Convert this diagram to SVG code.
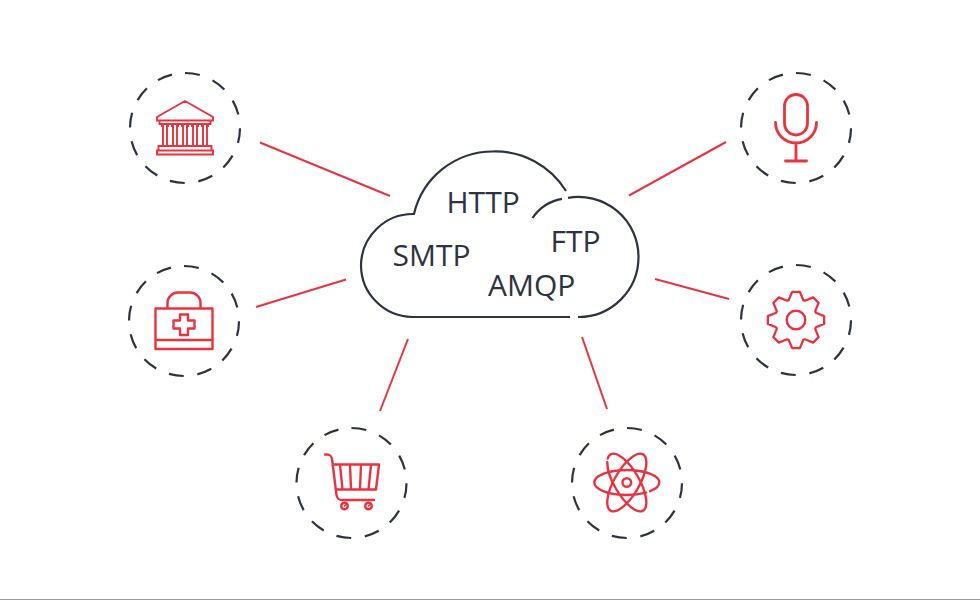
<svg xmlns="http://www.w3.org/2000/svg" width="980" height="600" viewBox="0 0 980 600">
<style>
.ring{fill:none;stroke:#2d3340;stroke-width:2.200;stroke-dasharray:15 13.800}
.ic{fill:none;stroke:#e9333f;stroke-width:2.400;stroke-linecap:round;stroke-linejoin:round}
.ln{fill:none;stroke:#e9333f;stroke-width:2}
.cl{fill:none;stroke:#2d3340;stroke-width:2.200}
.t{font-family:"Open Sans",sans-serif;font-size:30px;fill:#2d3340}
</style>
<rect width="980" height="600" fill="#fff"/>
<rect y="599" width="980" height="1" fill="#999"/>
<g id="connectors">
<path class="ln" d="M260 142.500L390 196"/>
<path class="ln" d="M256 307L346 279.500"/>
<path class="ln" d="M408 339L380 411"/>
<path class="ln" d="M582 337L607 409"/>
<path class="ln" d="M629 195.500L726 142"/>
<path class="ln" d="M655 279L729 299"/>
</g>
<g id="cloud">
<path class="cl" d="M566 191A83 83 0 0 0 493 151.500A81 81 0 0 0 414 214A52 52 0 0 0 361 265.500A52 52 0 0 0 412 317L570 317"/>
<path class="cl" d="M578 317A60 60 0 0 0 638.500 257A60 60 0 0 0 568 197.800"/>
<path class="cl" d="M562 198.800A45 45 0 0 0 532.500 218"/>
<text class="t" x="446.500" y="213">HTTP</text>
<text class="t" x="550.500" y="252">FTP</text>
<text class="t" x="392.500" y="266">SMTP</text>
<text class="t" x="488" y="296">AMQP</text>
</g>
<g id="bank">
<circle class="ring" cx="185" cy="128" r="55" transform="rotate(-90 185 128)"/>
<path class="ic" style="stroke-width:1.900;stroke-linejoin:miter" d="M185 101L213 117V120.500H157V117ZM159.500 120.500V124H210.500V120.500M162 124H168V126H167V146H163V126H162ZM172 124H178V126H177V146H173V126H172ZM182 124H188V126H187V146H183V126H182ZM192 124H198V126H197V146H193V126H192ZM202 124H208V126H207V146H203V126H202ZM158.500 146H211.500V150.500H158.500ZM157 150.500H213V154.500H157Z"/>
</g>
<g id="kit">
<circle class="ring" cx="184" cy="321" r="55" transform="rotate(-90 184 321)"/>
<path class="ic" d="M155.500 308.500H212.500V349H155.500ZM155.500 340H212.500M167.500 308.500V303A10.500 10.500 0 0 1 178 292.500H190A10.500 10.500 0 0 1 200.500 303V308.500M180 314.500H188V320.500H194.500V328.500H188V335H180V328.500H173.500V320.500H180Z"/>
</g>
<g id="cart">
<circle class="ring" cx="351.500" cy="483" r="55" transform="rotate(-90 351.500 483)"/>
<path class="ic" d="M325 454.500H327A5 5 0 0 1 332 459L336.500 495A5.500 5.500 0 0 0 342 500H374M333 464.500H379L376 489.500H336M340 464.500L342.500 489.500M350 464.500L351 489.500M361 464.500L360 489.500M371 464.500L368.500 489.500"/>
<circle class="ic" cx="344.500" cy="506" r="3.300"/>
<circle class="ic" cx="368.500" cy="506" r="3.300"/>
<path class="ic" style="stroke-width:1.500" d="M344.500 506L346 504.500M368.500 506L370 504.500"/>
</g>
<g id="atom">
<circle class="ring" cx="627" cy="483" r="55" transform="rotate(-90 627 483)"/>
<ellipse class="ic" cx="626.800" cy="482.500" rx="32.500" ry="12.500" pathLength="100" stroke-dasharray="9 3 88 0"/>
<ellipse class="ic" cx="626.800" cy="482.500" rx="32.500" ry="12.500" pathLength="100" stroke-dasharray="44 2.500 53.500 0" transform="rotate(60 626.800 482.500)"/>
<ellipse class="ic" cx="626.800" cy="482.500" rx="32.500" ry="12.500" transform="rotate(-60 626.800 482.500)"/>
<circle class="ic" cx="626.800" cy="482.500" r="4.300"/>
</g>
<g id="mic">
<circle class="ring" cx="796" cy="128" r="55" transform="rotate(-90 796 128)"/>
<path class="ic" style="stroke-width:2.800" d="M784.500 106A11.500 11.500 0 0 1 807.500 106V123.500A11.500 11.500 0 0 1 784.500 123.500ZM775.500 122.500A20.500 20.500 0 0 0 816.500 122.500M796 144V161M785.500 161H806.500"/>
</g>
<g id="gear">
<circle class="ring" cx="796" cy="320" r="55" transform="rotate(-90 796 320)"/>
<path class="ic" transform="translate(796 320) scale(.97)" d="M-7.500-20.500L-4-29H4L7.500-20.500L9.190-19.800L17.680-23.330L23.330-17.680L19.800-9.190L20.500-7.500L29-4V4L20.500 7.500L19.800 9.190L23.330 17.680L17.680 23.330L9.190 19.800L7.500 20.500L4 29H-4L-7.500 20.500L-9.190 19.800L-17.680 23.330L-23.330 17.680L-19.800 9.190L-20.500 7.500L-29 4V-4L-20.500-7.500L-19.800-9.190L-23.330-17.680L-17.680-23.330L-9.190-19.800Z"/>
<circle class="ic" cx="796" cy="320" r="9.300"/>
</g>
</svg>
